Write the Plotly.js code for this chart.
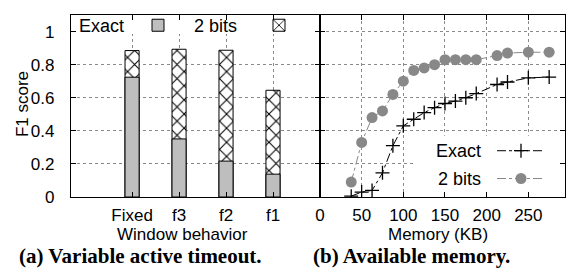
<!DOCTYPE html>
<html>
<head>
<meta charset="utf-8">
<script src="https://cdn.plot.ly/plotly-3.0.1.min.js"></script>
<style>html,body{margin:0;padding:0;background:#fff;}#chart{width:572px;height:273px;}</style>
</head>
<body>
<div id="chart"></div>
<script>
// ---- Data: (a) Variable active timeout ----
const windowBehaviors = ["Fixed", "f3", "f2", "f1"];
const windowPos = [1, 2, 3, 4];
const exactF1Bars = [0.724, 0.351, 0.217, 0.138];
const twoBitsF1Bars = [0.885, 0.893, 0.887, 0.645];

// ---- Data: (b) Available memory ----
const memoryKB = [37.5, 50, 62.5, 75, 87.5, 100, 112.5, 125, 137.5, 150, 162.5, 175, 187.5, 212.5, 225, 250, 275];
const exactF1Mem = [0.005, 0.03, 0.04, 0.146, 0.31, 0.43, 0.47, 0.51, 0.54, 0.565, 0.58, 0.60, 0.625, 0.68, 0.695, 0.72, 0.725];
const twoBitsF1Mem = [0.09, 0.33, 0.48, 0.52, 0.62, 0.70, 0.765, 0.78, 0.80, 0.83, 0.83, 0.83, 0.83, 0.855, 0.87, 0.875, 0.875];
const memTicks = [0, 50, 100, 150, 200, 250];

const SANS = "Liberation Sans, Arial, Helvetica, sans-serif";
const SERIF = "Liberation Serif, Times New Roman, serif";
const GRID = "#8a8a8a";
const FS = 17;   // tick labels and axis titles
const FL = 18;   // legend labels

const traces = [
  {
    type: "bar", x: windowPos, y: twoBitsF1Bars, width: 0.3, name: " ",
    xaxis: "x", yaxis: "y", legend: "legend2",
    marker: {color: "white", line: {color: "black", width: 1},
      pattern: {shape: "x", fgcolor: "black", bgcolor: "white", size: 10, solidity: 0.2}},
    hoverinfo: "skip"
  },
  {
    type: "bar", x: windowPos, y: exactF1Bars, width: 0.3, name: " ",
    xaxis: "x", yaxis: "y", legend: "legend",
    marker: {color: "#bebebe", line: {color: "black", width: 1}},
    hoverinfo: "skip"
  },
  {
    type: "scatter", mode: "lines+markers", x: memoryKB, y: exactF1Mem, name: " ",
    xaxis: "x2", yaxis: "y2", legend: "legend3",
    line: {color: "black", width: 1, dash: "dashdot"},
    marker: {symbol: "cross-thin-open", size: 10, color: "black", line: {color: "black", width: 1.3}},
    hoverinfo: "skip"
  },
  {
    type: "scatter", mode: "lines+markers", x: memoryKB, y: twoBitsF1Mem, name: " ",
    xaxis: "x2", yaxis: "y2", legend: "legend4",
    line: {color: "#888888", width: 1, dash: "dashdot"},
    marker: {symbol: "circle", size: 11, color: "#888888"},
    hoverinfo: "skip"
  }
];

const px = X => (X - 71) / 494;
const py = Y => (197 - Y) / 190;

const axisCommon = {
  showline: true, linecolor: "black", linewidth: 1.2, mirror: "ticks",
  ticks: "inside", ticklen: 5, tickcolor: "black", tickwidth: 1,
  showgrid: true, gridcolor: GRID, griddash: "dot", gridwidth: 1,
  zeroline: false, tickfont: {family: SANS, size: FS, color: "black"}
};

const legendCommon = {bgcolor: "rgba(0,0,0,0)", borderwidth: 0, xanchor: "left", yanchor: "middle",
  font: {family: SANS, size: FL}};

const ann = (text, X, Y, xanchor, extra) => Object.assign({
  text: text, xref: "paper", yref: "paper", x: px(X), y: py(Y), xanchor: xanchor, yanchor: "middle",
  showarrow: false, font: {family: SANS, size: FS, color: "black"}
}, extra || {});

const layout = {
  width: 572, height: 273,
  margin: {l: 71, r: 7, t: 7, b: 76},
  paper_bgcolor: "white", plot_bgcolor: "white",
  font: {family: SANS, size: FS, color: "black"},
  barmode: "overlay",
  showlegend: true,
  xaxis: Object.assign({}, axisCommon, {
    domain: [0, 0.504], range: [-0.3, 5.0], anchor: "y",
    tickvals: windowPos, ticktext: windowBehaviors, ticklabelstandoff: 2
  }),
  yaxis: Object.assign({}, axisCommon, {
    domain: [0, 1], range: [0, 1.1], dtick: 0.2, tick0: 0, anchor: "x",
    ticklabelstandoff: 12
  }),
  xaxis2: Object.assign({}, axisCommon, {
    domain: [0.504, 1], range: [0, 294], anchor: "y2",
    tickvals: memTicks, ticklabelstandoff: 2
  }),
  yaxis2: Object.assign({}, axisCommon, {
    domain: [0, 1], range: [0, 1.1], dtick: 0.2, tick0: 0, anchor: "x2",
    showticklabels: false
  }),
  legend: Object.assign({}, legendCommon, {x: px(138), y: py(18)}),
  legend2: Object.assign({}, legendCommon, {x: px(259), y: py(18)}),
  legend3: Object.assign({}, legendCommon, {x: px(492), y: py(149), itemwidth: 48}),
  legend4: Object.assign({}, legendCommon, {x: px(492), y: py(178), itemwidth: 48}),
  shapes: [
    {type: "rect", xref: "x", yref: "y", x0: -0.3, x1: 5.0, y0: 0.985, y1: 1.1,
      fillcolor: "white", line: {width: 0}, layer: "between"},
    {type: "rect", xref: "x2", yref: "y2", x0: 114, x1: 294, y0: 0, y1: 0.37,
      fillcolor: "white", line: {width: 0}, layer: "between"}
  ],
  annotations: [
    ann("Exact", 77, 18, "left", {font: {family: SANS, size: FL, color: "black"}}),
    ann("2 bits", 192, 18, "left", {font: {family: SANS, size: FL, color: "black"}}),
    ann("Exact", 483, 149, "right", {font: {family: SANS, size: FL, color: "black"}}),
    ann("2 bits", 483, 178, "right", {font: {family: SANS, size: FL, color: "black"}}),
    ann("Window behavior", 182, 236, "center"),
    ann("Memory (KB)", 438, 236, "center"),
    ann("F1 score", 22, 100, "center", {textangle: -90}),
    ann("<b>(a) Variable active timeout.</b>", 140, 259, "center", {font: {family: SERIF, size: 21, color: "black"}}),
    ann("<b>(b) Available memory.</b>", 411, 259, "center", {font: {family: SERIF, size: 21, color: "black"}})
  ]
};

Plotly.newPlot("chart", traces, layout, {staticPlot: true, displayModeBar: false});
</script>
</body>
</html>
